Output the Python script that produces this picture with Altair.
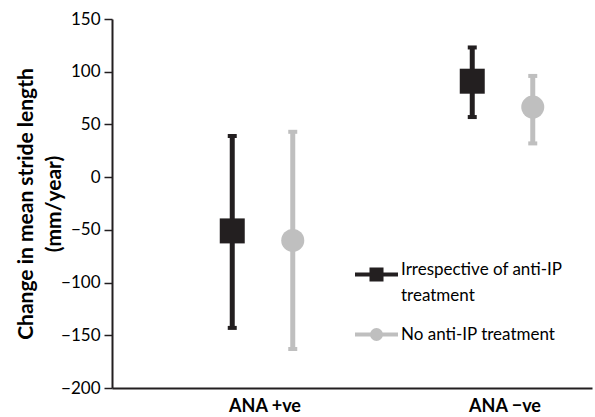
import altair as alt
import pandas as pd

groups = ["ANA +ve", "ANA −ve"]
series = ["Irrespective of anti-IP treatment", "No anti-IP treatment"]
colors = ["#231f20", "#bfbfbf"]

mean_irrespective = [-51, 91]
lower_irrespective = [-143, 57]
upper_irrespective = [39, 123]

mean_no_treat = [-60, 66.5]
lower_no_treat = [-163, 32]
upper_no_treat = [43, 96]

y_ticks = [150, 100, 50, 0, -50, -100, -150, -200]

rows = []
for i, g in enumerate(groups):
    rows.append(dict(group=g, series=series[0], mean=mean_irrespective[i],
                     lo=lower_irrespective[i], hi=upper_irrespective[i]))
    rows.append(dict(group=g, series=series[1], mean=mean_no_treat[i],
                     lo=lower_no_treat[i], hi=upper_no_treat[i]))
df = pd.DataFrame(rows)

FONT = "Lato"

# legend glyphs: a line with a (stroke-filled) square / circle on it, in unit coords
sq_path = ("M-1,0H1"
           "M-0.326,-0.233H0.326M-0.326,-0.079H0.326"
           "M-0.326,0.079H0.326M-0.326,0.233H0.326")
ci_path = ("M-1,0H1"
           "M0.209,0A0.209,0.209 0 1,1 -0.209,0A0.209,0.209 0 1,1 0.209,0"
           "M0.06,0A0.06,0.06 0 1,1 -0.06,0A0.06,0.06 0 1,1 0.06,0")

legend_common = dict(
    orient="none", title=None,
    symbolSize=1849, symbolStrokeWidth=4, symbolOpacity=1,
    labelFont=FONT, labelFontSize=17, labelColor="black", labelLimit=400,
    labelOffset=1,
)
legend_a = alt.Legend(
    legendX=241, legendY=232, symbolType=sq_path, labelBaseline="alphabetic",
    labelExpr="['Irrespective of anti-IP', 'treatment']", **legend_common)
legend_b = alt.Legend(
    legendX=241, legendY=292, symbolType=ci_path, labelBaseline="middle", **legend_common)

color_scale = alt.Scale(domain=series, range=colors)

x_enc = alt.X("group:N", scale=alt.Scale(domain=groups, paddingInner=0, paddingOuter=0),
              axis=alt.Axis(title=None, ticks=False, tickSize=0, labelAngle=0,
                            labelFont=FONT, labelFontSize=18, labelFontWeight="bold",
                            labelColor="black", labelPadding=9, labelOffset=33,
                            domainColor="#231f20", domainWidth=2))
xoff_enc = alt.XOffset("series:N", scale=alt.Scale(domain=series, range=[90, 211]))

y_scale = alt.Scale(domain=[-200, 150], nice=False, zero=False)
y_axis = alt.Axis(title=["Change in mean stride length", "(mm/year)"], values=y_ticks,
                  grid=False, tickSize=8, tickColor="#231f20", tickWidth=1.5,
                  domainColor="#231f20", domainWidth=2,
                  labelFont=FONT, labelFontSize=17, labelColor="black", labelPadding=4,
                  titleFont=FONT, titleFontSize=21, titleFontWeight="bold",
                  titleColor="black", titlePadding=-4, titleLineHeight=28)

base = alt.Chart(df)
color_nolegend = alt.Color("series:N", scale=color_scale, legend=None)

rules = base.mark_rule(strokeWidth=5).encode(
    x=x_enc, xOffset=xoff_enc,
    y=alt.Y("lo:Q", scale=y_scale, axis=y_axis), y2="hi:Q",
    color=color_nolegend,
)

caps = base.transform_fold(["lo", "hi"], as_=["end", "val"]).mark_tick(
    size=9, thickness=4, opacity=1
).encode(
    x=x_enc, xOffset=xoff_enc,
    y=alt.Y("val:Q", scale=y_scale, axis=y_axis),
    color=color_nolegend,
)

points = base.mark_point(filled=True, opacity=1).encode(
    x=x_enc, xOffset=xoff_enc,
    y=alt.Y("mean:Q", scale=y_scale, axis=y_axis),
    color=color_nolegend,
    shape=alt.Shape("series:N", scale=alt.Scale(domain=series, range=["square", "circle"]), legend=None),
    size=alt.Size("series:N", scale=alt.Scale(domain=series, range=[625, 531]), legend=None),
)

# legend-only layers (no rows drawn; entries come from the explicit scale domains)
legend_layer_a = base.transform_filter("false").mark_point(filled=False, opacity=1, strokeWidth=4).encode(
    color=alt.Color("series:N", scale=alt.Scale(domain=[series[0]], range=[colors[0]]), legend=legend_a),
)
legend_layer_b = base.transform_filter("false").mark_point(filled=False, opacity=1, strokeWidth=4).encode(
    color=alt.Color("series:N", scale=alt.Scale(domain=[series[1]], range=[colors[1]]), legend=legend_b),
)

chart = alt.layer(rules, caps, points, legend_layer_a, legend_layer_b).resolve_scale(
    color="independent", shape="independent", size="independent"
).properties(
    width=480, height=369,
    autosize=alt.AutoSizeParams(type="none"),
    padding={"left": 112, "top": 19, "right": 3, "bottom": 29},
).configure(
    view={"stroke": None},
    axis={"domainCap": "butt"},
    style={"guide-label": {"lineHeight": 26}},
)

chart.save("out.html", embed_options={"renderer": "svg", "actions": False})
